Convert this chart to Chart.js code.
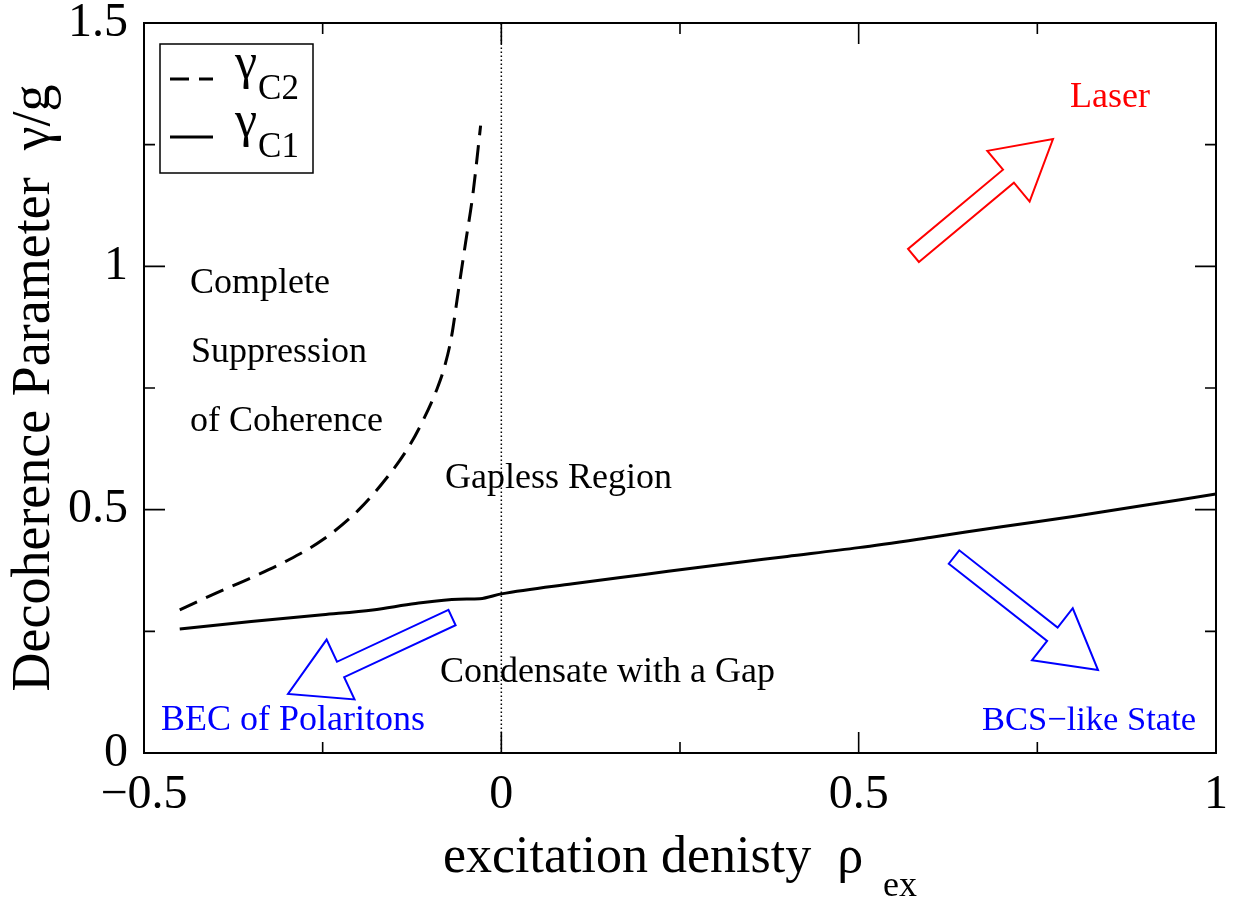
<!DOCTYPE html>
<html>
<head>
<meta charset="utf-8">
<script src="https://cdn.jsdelivr.net/npm/chart.js@4.4.0/dist/chart.umd.min.js"></script>
<style>
html,body{margin:0;padding:0;background:#fff;}
#wrap{width:1239px;height:901px;position:relative;}
canvas{display:block;}
</style>
</head>
<body>
<div id="wrap"><canvas id="c" width="1239" height="901"></canvas></div>
<script>
// ---- data ----
const gammaC2X = [-0.45,-0.40,-0.35,-0.30,-0.25,-0.20,-0.16,-0.13,-0.11,-0.09,-0.08,-0.07,-0.06,-0.05,-0.04,-0.029];
const gammaC2Y = [0.294,0.328,0.360,0.395,0.438,0.499,0.566,0.628,0.682,0.748,0.791,0.853,0.951,1.049,1.146,1.289];
const gammaC1X = [-0.45,-0.35,-0.25,-0.18,-0.12,-0.06,-0.03,0,0.1,0.2,0.3,0.4,0.5,0.6,0.7,0.8,0.9,1.0];
const gammaC1Y = [0.255,0.270,0.284,0.294,0.307,0.316,0.317,0.327,0.348,0.367,0.386,0.404,0.422,0.443,0.465,0.486,0.509,0.532];
const zeroLineX = [0,0];
const zeroLineY = [0,1.5];
const seriesSymbols = ['γ','γ'];
const seriesSubscripts = ['C2','C1'];
const xTickValues = [-0.5,0,0.5,1];
const xTickLabels = ['\u22120.5','0','0.5','1'];
const xMinorTicks = [-0.25,0.25,0.75];
const yTickValues = [0,0.5,1,1.5];
const yTickLabels = ['0','0.5','1','1.5'];
const yMinorTicks = [0.25,0.75,1.25];
const xTitle = 'excitation denisty  \u03c1';
const xTitleSub = 'ex';
const yTitle = 'Decoherence Parameter  \u03b3/g';
const regionTexts = ['Complete','Suppression','of Coherence','Gapless Region','Condensate with a Gap','BEC of Polaritons','BCS\u2212like State','Laser'];

// ---- annotation placement (data coordinates) ----
const annot = {
  textX: [-0.4356,-0.4342,-0.4356,-0.0788,-0.0858,-0.4762,0.6726,0.7957],
  textY: [0.945,0.803,0.662,0.5445,0.1459,0.0473,0.0473,1.3274],
  textSize: [36,36,36,36,36,36,34.5,36],
  textColor: ['#000','#000','#000','#000','#000','#0000ff','#0000ff','#ff0000'],
  arrows: [
    {tail:[0.5767,1.0223], tip:[0.7719,1.2616], color:'#ff0000'},
    {tail:[0.6334,0.4027], tip:[0.8349,0.1705], color:'#0000ff'},
    {tail:[-0.0690,0.2784], tip:[-0.2985,0.1212], color:'#0000ff'}
  ]
};

const SERIF = "'Liberation Serif','Times New Roman',serif";

function pts(xs, ys){ return xs.map((x,i)=>({x:x, y:ys[i]})); }

const framePlugin = {
  id:'frame',
  afterDraw(chart){
    const ctx = chart.ctx, a = chart.chartArea;
    const xs = chart.scales.x, ys = chart.scales.y;
    ctx.save();
    ctx.strokeStyle = '#000';
    ctx.lineWidth = 2;
    ctx.strokeRect(a.left, a.top, a.right-a.left, a.bottom-a.top);
    ctx.lineWidth = 1.6;
    const MAJ = 21, MIN = 11;
    function xt(v, len){
      const p = xs.getPixelForValue(v);
      ctx.beginPath();
      ctx.moveTo(p, a.bottom); ctx.lineTo(p, a.bottom-len);
      ctx.moveTo(p, a.top); ctx.lineTo(p, a.top+len);
      ctx.stroke();
    }
    function yt(v, len){
      const p = ys.getPixelForValue(v);
      ctx.beginPath();
      ctx.moveTo(a.left, p); ctx.lineTo(a.left+len, p);
      ctx.moveTo(a.right, p); ctx.lineTo(a.right-len, p);
      ctx.stroke();
    }
    xTickValues.forEach(v=>xt(v,MAJ));
    xMinorTicks.forEach(v=>xt(v,MIN));
    yTickValues.forEach(v=>yt(v,MAJ));
    yMinorTicks.forEach(v=>yt(v,MIN));

    // x-axis title with subscript
    ctx.fillStyle = '#000';
    ctx.textBaseline = 'alphabetic';
    ctx.textAlign = 'left';
    ctx.font = '52px ' + SERIF;
    const w1 = ctx.measureText(xTitle).width;
    ctx.font = '36px ' + SERIF;
    const w2 = ctx.measureText(xTitleSub).width;
    const gap = 20;
    const cx = (a.left + a.right)/2;
    const x0 = cx - (w1 + gap + w2)/2;
    ctx.font = '52px ' + SERIF;
    ctx.fillText(xTitle, x0, 872);
    ctx.font = '36px ' + SERIF;
    ctx.fillText(xTitleSub, x0 + w1 + gap, 896);

    // legend
    const lx = a.left + 16, ly = a.top + 21, lw = 153, lh = 129;
    ctx.fillStyle = '#fff';
    ctx.fillRect(lx, ly, lw, lh);
    ctx.lineWidth = 1.5;
    ctx.strokeStyle = '#000';
    ctx.strokeRect(lx, ly, lw, lh);
    const ds = chart.data.datasets;
    for (let i=0;i<2;i++){
      const yy = ly + 35 + i*58;
      ctx.beginPath();
      ctx.lineWidth = 3;
      ctx.setLineDash(ds[i].borderDash || []);
      ctx.moveTo(lx+10, yy); ctx.lineTo(lx+53, yy);
      ctx.stroke();
      ctx.setLineDash([]);
      ctx.fillStyle = '#000';
      ctx.font = '50px ' + SERIF;
      const gx = lx + 75;
      ctx.fillText(seriesSymbols[i], gx, yy - 1);
      const gw = ctx.measureText(seriesSymbols[i]).width;
      ctx.font = '35px ' + SERIF;
      ctx.fillText(seriesSubscripts[i], gx + gw + 1, yy + 20);
    }
    ctx.restore();
  },
  afterDatasetsDraw(chart){
    const ctx = chart.ctx;
    const xs = chart.scales.x, ys = chart.scales.y;
    ctx.save();
    ctx.textAlign = 'left';
    ctx.textBaseline = 'alphabetic';
    regionTexts.forEach((t,i)=>{
      ctx.font = annot.textSize[i] + 'px ' + SERIF;
      ctx.fillStyle = annot.textColor[i];
      ctx.fillText(t, xs.getPixelForValue(annot.textX[i]), ys.getPixelForValue(annot.textY[i]));
    });
    annot.arrows.forEach(ar=>{
      const tx = xs.getPixelForValue(ar.tail[0]), ty = ys.getPixelForValue(ar.tail[1]);
      const px = xs.getPixelForValue(ar.tip[0]), py = ys.getPixelForValue(ar.tip[1]);
      const len = Math.hypot(px-tx, py-ty);
      const ux = (px-tx)/len, uy = (py-ty)/len;
      const nx = -uy, ny = ux;
      const w = 8.5, h = 33, L = 58;
      const bx = px - ux*L, by = py - uy*L;
      ctx.beginPath();
      ctx.moveTo(tx+nx*w, ty+ny*w);
      ctx.lineTo(bx+nx*w, by+ny*w);
      ctx.lineTo(bx+nx*h, by+ny*h);
      ctx.lineTo(px, py);
      ctx.lineTo(bx-nx*h, by-ny*h);
      ctx.lineTo(bx-nx*w, by-ny*w);
      ctx.lineTo(tx-nx*w, ty-ny*w);
      ctx.closePath();
      ctx.strokeStyle = ar.color;
      ctx.lineWidth = 2;
      ctx.lineJoin = 'miter';
      ctx.stroke();
    });
    ctx.restore();
  }
};

new Chart(document.getElementById('c'), {
  type:'line',
  data:{
    datasets:[
      {label:'\u03b3C2', data:pts(gammaC2X,gammaC2Y), borderColor:'#000', borderWidth:3, borderDash:[19,10], pointRadius:0, fill:false, cubicInterpolationMode:'monotone'},
      {label:'\u03b3C1', data:pts(gammaC1X,gammaC1Y), borderColor:'#000', borderWidth:3, pointRadius:0, fill:false, cubicInterpolationMode:'monotone'},
      {label:'zero', data:pts(zeroLineX,zeroLineY), borderColor:'#000', borderWidth:1.5, borderDash:[1.5,2.5], pointRadius:0, fill:false}
    ]
  },
  options:{
    responsive:false,
    animation:false,
    devicePixelRatio:1,
    layout:{padding:{top:23,right:23,left:0,bottom:0}},
    plugins:{legend:{display:false}, tooltip:{enabled:false}},
    scales:{
      x:{
        type:'linear', min:-0.5, max:1, position:'bottom',
        grid:{display:false}, border:{display:false},
        afterBuildTicks(s){ s.ticks = xTickValues.map(v=>({value:v})); },
        afterFit(s){ s.height = 148; s.paddingLeft = 0; s.paddingRight = 0; },
        ticks:{
          autoSkip:false, maxRotation:0, padding:6, color:'#000',
          font:{family:SERIF, size:48},
          callback(v){ const i = xTickValues.indexOf(v); return i>=0 ? xTickLabels[i] : ''; }
        },
        title:{display:false}
      },
      y:{
        type:'linear', min:0, max:1.5,
        grid:{display:false}, border:{display:false},
        afterBuildTicks(s){ s.ticks = yTickValues.map(v=>({value:v})); },
        afterFit(s){ s.width = 144; s.paddingTop = 0; s.paddingBottom = 0; },
        ticks:{
          padding:8, color:'#000',
          font:{family:SERIF, size:48},
          callback(v){ const i = yTickValues.indexOf(v); return i>=0 ? yTickLabels[i] : ''; }
        },
        title:{display:true, text:yTitle, color:'#000', font:{family:SERIF, size:54}, padding:{top:2,bottom:0}}
      }
    }
  },
  plugins:[framePlugin]
});
</script>
</body>
</html>
